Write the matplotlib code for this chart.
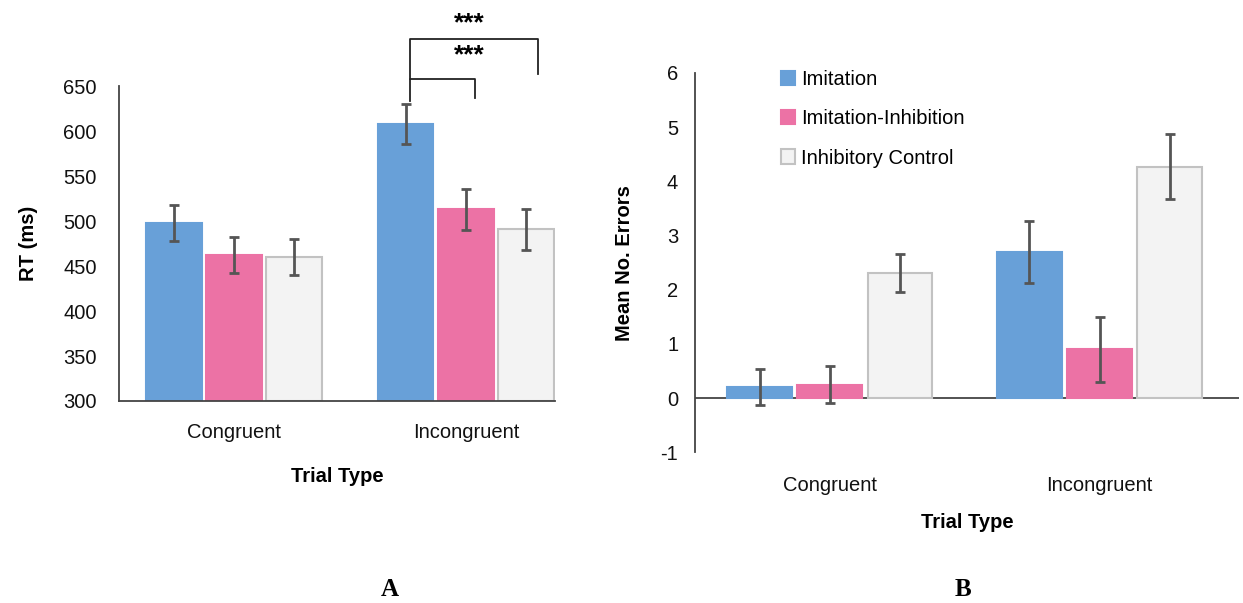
import matplotlib.pyplot as plt
import numpy as np

plt.rcParams['font.family'] = ['Liberation Sans', 'DejaVu Sans']
plt.rcParams['axes.unicode_minus'] = False

# data
trial_types = ['Congruent', 'Incongruent']
conditions = ['Imitation', 'Imitation-Inhibition', 'Inhibitory Control']

rt_means = [[498, 608],   # Imitation
            [462, 513],   # Imitation-Inhibition
            [460, 491]]   # Inhibitory Control
rt_errs = [[20, 22],
           [20, 23],
           [20, 23]]

err_means = [[0.2, 2.7],
             [0.25, 0.9],
             [2.3, 4.27]]
err_errs = [[0.33, 0.57],
            [0.35, 0.6],
            [0.35, 0.6]]

rt_ticks = [300, 350, 400, 450, 500, 550, 600, 650]
err_ticks = [-1, 0, 1, 2, 3, 4, 5, 6]

colors = ['#68a0d8', '#ec72a5', '#f3f3f3']
edges = ['#68a0d8', '#ec72a5', '#c2c2c2']
axcol = '#444444'

fig = plt.figure(figsize=(12.43, 6.03), dpi=100)
axA = fig.add_axes([0.0957, 0.335, 0.3508, 0.522])
axB = fig.add_axes([0.559, 0.250, 0.438, 0.629])

x = np.arange(len(trial_types))
offs = [-0.26, 0.0, 0.26]
w = 0.24


def draw(ax, means, errs, bottom):
    for i in range(3):
        vals = np.array(means[i])
        ax.bar(x + offs[i], vals - bottom, w, bottom=bottom, color=colors[i],
               edgecolor=edges[i], linewidth=1.5, label=conditions[i], zorder=2)
        ax.errorbar(x + offs[i], vals, yerr=errs[i], fmt='none', ecolor='#555555',
                    elinewidth=2, capsize=3.5, capthick=2, zorder=3)
    for s in ['top', 'right']:
        ax.spines[s].set_visible(False)
    ax.spines['left'].set_color(axcol)
    ax.spines['left'].set_linewidth(1.3)
    ax.tick_params(axis='both', length=0, labelsize=14.5, colors='#111111')
    ax.set_xticks(x)
    ax.set_xticklabels(trial_types)


# panel A
draw(axA, rt_means, rt_errs, 300)
axA.set_ylim(300, 650)
axA.set_xlim(-0.496, 1.384)
axA.set_yticks(rt_ticks)
axA.spines['bottom'].set_color(axcol)
axA.spines['bottom'].set_linewidth(1.3)
axA.tick_params(axis='y', pad=16)
axA.tick_params(axis='x', pad=16)
axA.set_ylabel('RT (ms)', fontsize=14.5, fontweight='bold', labelpad=18)
axA.set_xlabel('Trial Type', fontsize=14.5, fontweight='bold', labelpad=18)

# significance brackets
x0 = x[1] + offs[0] + 0.02
x1 = x[1] + offs[1] + 0.04
x2 = x[1] + offs[2] + 0.05
axA.plot([x0, x0, x1, x1], [634, 658, 658, 637], color='#222222', lw=1.3, clip_on=False)
axA.plot([x0, x0, x2, x2], [658, 702, 702, 664], color='#222222', lw=1.3, clip_on=False)
axA.text((x0 + x2) / 2 - 0.02, 684, '***', ha='center', va='center', fontsize=19, fontweight='bold')
axA.text((x0 + x2) / 2 - 0.02, 720, '***', ha='center', va='center', fontsize=19, fontweight='bold')

# panel B
draw(axB, err_means, err_errs, 0)
axB.set_ylim(-1, 6)
axB.set_xlim(-0.5, 1.518)
axB.set_yticks(err_ticks)
axB.spines['bottom'].set_visible(False)
axB.axhline(0, color=axcol, lw=1.3, zorder=1)
axB.tick_params(axis='y', pad=12)
axB.tick_params(axis='x', pad=17)
axB.set_ylabel('Mean No. Errors', fontsize=14.5, fontweight='bold', labelpad=19)
axB.set_xlabel('Trial Type', fontsize=14.5, fontweight='bold', labelpad=13)
axB.legend(loc='upper left', bbox_to_anchor=(0.125, 1.055), frameon=False, fontsize=14.5,
           handlelength=0.7, handleheight=0.7, handletextpad=0.3, labelspacing=1.0)

fig.text(0.306, 0.012, 'A', fontsize=18, fontweight='bold', family='Liberation Serif')
fig.text(0.768, 0.012, 'B', fontsize=18, fontweight='bold', family='Liberation Serif')

fig.savefig('out.png', dpi=100)
